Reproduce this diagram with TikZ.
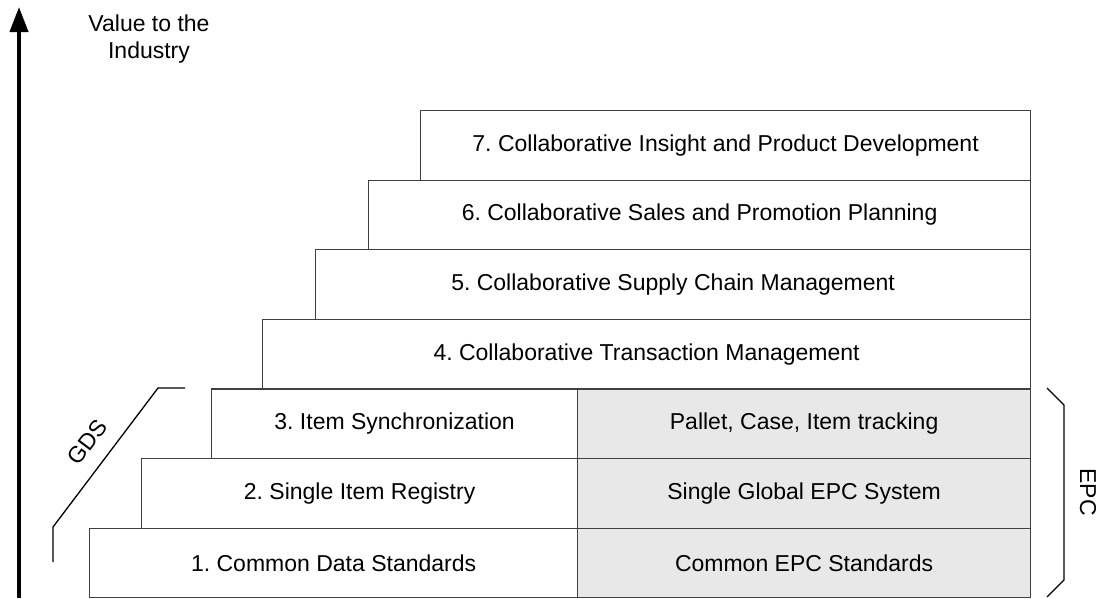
\documentclass[tikz,border=0pt]{standalone}
\usepackage{fontspec}
\setmainfont{Liberation Sans}
\usetikzlibrary{arrows.meta}
\frenchspacing
\tikzset{
  box/.style={draw=black!75, line width=1.2pt, inner sep=0pt, anchor=north west,
    minimum height=69.6pt, font=\fontsize{23}{27}\selectfont},
  epcbox/.style={box, fill=black!9},
  brk/.style={draw=black, line width=1.3pt},
  lbl/.style={font=\fontsize{23}{27}\selectfont, align=center, inner sep=0pt}
}
\begin{document}
\begin{tikzpicture}[x=1pt,y=-1pt]
\useasboundingbox (0,0) rectangle (1099,598);
% arrow
\coordinate (abot) at (19,598);
\coordinate (atop) at (19,7);
\draw[line width=4pt, -{Triangle[width=18pt,length=25pt]}] (abot) -- (atop);
\node[lbl] (value) at (149,39) {Value to the\\Industry};
% upper boxes
\node[box, minimum width=610pt] (b7) at (420,110) {7. Collaborative Insight and Product Development};
\node[box, minimum width=662pt] (b6) at (368,179.6) {6. Collaborative Sales and Promotion Planning};
\node[box, minimum width=715pt] (b5) at (315,249.2) {5. Collaborative Supply Chain Management};
\node[box, minimum width=768pt] (b4) at (262,318.8) {4. Collaborative Transaction Management};
% GDS boxes
\node[box, minimum width=366pt] (b3) at (211,388.4) {3. Item Synchronization};
\node[box, minimum width=436pt] (b2) at (141,458) {2. Single Item Registry};
\node[box, minimum width=488pt] (b1) at (89,527.6) {1. Common Data Standards};
% EPC boxes
\node[epcbox, minimum width=453pt] (e3) at (577,388.4) {Pallet, Case, Item tracking};
\node[epcbox, minimum width=453pt] (e2) at (577,458) {Single Global EPC System};
\node[epcbox, minimum width=453pt] (e1) at (577,527.6) {Common EPC Standards};
% GDS bracket
\coordinate (g1) at (53,562);
\coordinate (g2) at (53,527);
\coordinate (g3) at (158,388);
\coordinate (g4) at (185,388);
\draw[brk] (g1) -- (g2) -- (g3) -- (g4);
\node[lbl, rotate=53] (gds) at (87,442) {GDS};
% EPC bracket
\coordinate (p1) at (1047,388);
\coordinate (p2) at (1064,405);
\coordinate (p3) at (1064,580);
\coordinate (p4) at (1047,597);
\draw[brk] (p1) -- (p2) -- (p3) -- (p4);
\node[lbl, rotate=-90] (epc) at (1088,492) {EPC};
\end{tikzpicture}
\end{document}
